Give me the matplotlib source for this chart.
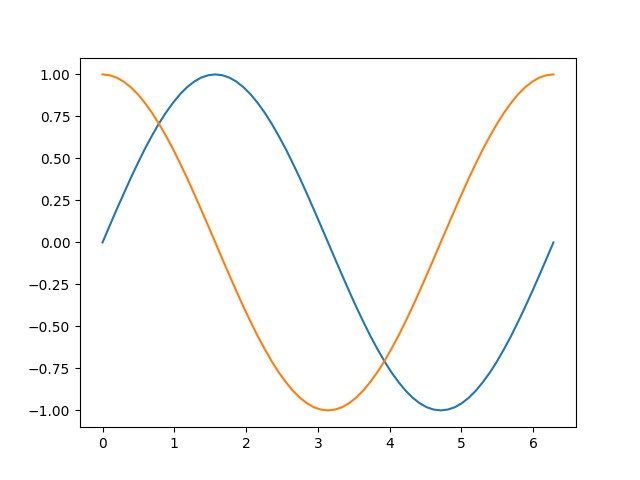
import matplotlib
matplotlib.use("Agg")
import matplotlib.pyplot as plt

# values at steps of about 0.098 along x
x_vals = [0.000, 0.098, 0.196, 0.295, 0.393, 0.491, 0.589, 0.687, 0.785,
          0.884, 0.982, 1.080, 1.178, 1.276, 1.374, 1.473, 1.571,
          1.669, 1.767, 1.865, 1.963, 2.062, 2.160, 2.258, 2.356,
          2.454, 2.553, 2.651, 2.749, 2.847, 2.945, 3.043, 3.142,
          3.240, 3.338, 3.436, 3.534, 3.632, 3.731, 3.829, 3.927,
          4.025, 4.123, 4.222, 4.320, 4.418, 4.516, 4.614, 4.712,
          4.811, 4.909, 5.007, 5.105, 5.203, 5.301, 5.400, 5.498,
          5.596, 5.694, 5.792, 5.890, 5.989, 6.087, 6.185, 6.283]

blue_vals = [0.000, 0.098, 0.195, 0.290, 0.383, 0.471, 0.556, 0.634, 0.707,
             0.773, 0.831, 0.882, 0.924, 0.957, 0.981, 0.995, 1.000,
             0.995, 0.981, 0.957, 0.924, 0.882, 0.831, 0.773, 0.707,
             0.634, 0.556, 0.471, 0.383, 0.290, 0.195, 0.098, 0.000,
             -0.098, -0.195, -0.290, -0.383, -0.471, -0.556, -0.634, -0.707,
             -0.773, -0.831, -0.882, -0.924, -0.957, -0.981, -0.995, -1.000,
             -0.995, -0.981, -0.957, -0.924, -0.882, -0.831, -0.773, -0.707,
             -0.634, -0.556, -0.471, -0.383, -0.290, -0.195, -0.098, 0.000]

orange_vals = [1.000, 0.995, 0.981, 0.957, 0.924, 0.882, 0.831, 0.773, 0.707,
               0.634, 0.556, 0.471, 0.383, 0.290, 0.195, 0.098, 0.000,
               -0.098, -0.195, -0.290, -0.383, -0.471, -0.556, -0.634, -0.707,
               -0.773, -0.831, -0.882, -0.924, -0.957, -0.981, -0.995, -1.000,
               -0.995, -0.981, -0.957, -0.924, -0.882, -0.831, -0.773, -0.707,
               -0.634, -0.556, -0.471, -0.383, -0.290, -0.195, -0.098, 0.000,
               0.098, 0.195, 0.290, 0.383, 0.471, 0.556, 0.634, 0.707,
               0.773, 0.831, 0.882, 0.924, 0.957, 0.981, 0.995, 1.000]

fig, ax = plt.subplots(figsize=(6.4, 4.8), dpi=100)
ax.plot(x_vals, blue_vals)
ax.plot(x_vals, orange_vals)

fig.savefig("out.png")
